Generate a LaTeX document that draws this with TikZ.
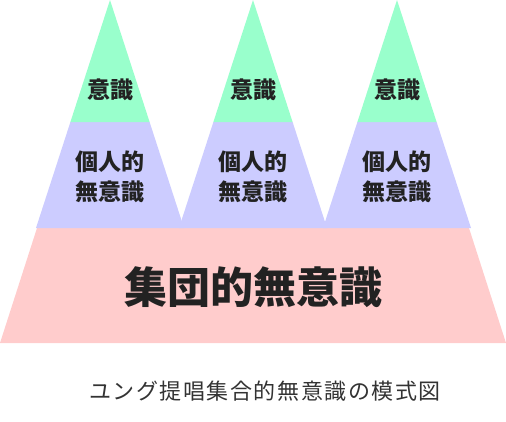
\documentclass[tikz,border=0pt]{standalone}
\usepackage{fontspec}
\newfontfamily\cjk{Noto Sans CJK JP}
\newfontfamily\cjkcap[LetterSpace=7]{Noto Sans CJK JP}
\definecolor{consc}{HTML}{99FFCC}
\definecolor{pers}{HTML}{CCCCFF}
\definecolor{coll}{HTML}{FFCCCC}
\definecolor{ink}{HTML}{222222}
\definecolor{capink}{HTML}{333333}
\begin{document}
\begin{tikzpicture}[x=1pt,y=-1pt,
  smalllabel/.style={text=ink,font=\cjk\bfseries\fontsize{23}{30}\selectfont,align=center,inner sep=0pt},
  biglabel/.style={text=ink,font=\cjk\bfseries\fontsize{43}{50}\selectfont,inner sep=0pt},
  captionlabel/.style={text=capink,font=\cjkcap\fontsize{22}{26}\selectfont,inner sep=0pt}]
\useasboundingbox (0,0) rectangle (506,421);
% collective layer
\fill[coll] (37,228) -- (469,228) -- (506,343) -- (0,343) -- cycle;
% personal layers
\foreach \px in {110,253,397}{
  \fill[pers] ({\px-39.6},122) -- ({\px+39.6},122) -- ({\px+74},228) -- ({\px-74},228) -- cycle;
  \fill[consc] (\px,0) -- ({\px+39.6},122) -- ({\px-39.6},122) -- cycle;
}
\node[smalllabel] (c1) at (110,90) {意識};
\node[smalllabel] (c2) at (253,90) {意識};
\node[smalllabel] (c3) at (397,90) {意識};
\node[smalllabel] (p1) at (110,177) {個人的\\無意識};
\node[smalllabel] (p2) at (253,177) {個人的\\無意識};
\node[smalllabel] (p3) at (397,177) {個人的\\無意識};
\node[biglabel] (cu) at (253,287) {集団的無意識};
\node[captionlabel] (ct) at (265,391) {ユング提唱集合的無意識の模式図};
\end{tikzpicture}
\end{document}
